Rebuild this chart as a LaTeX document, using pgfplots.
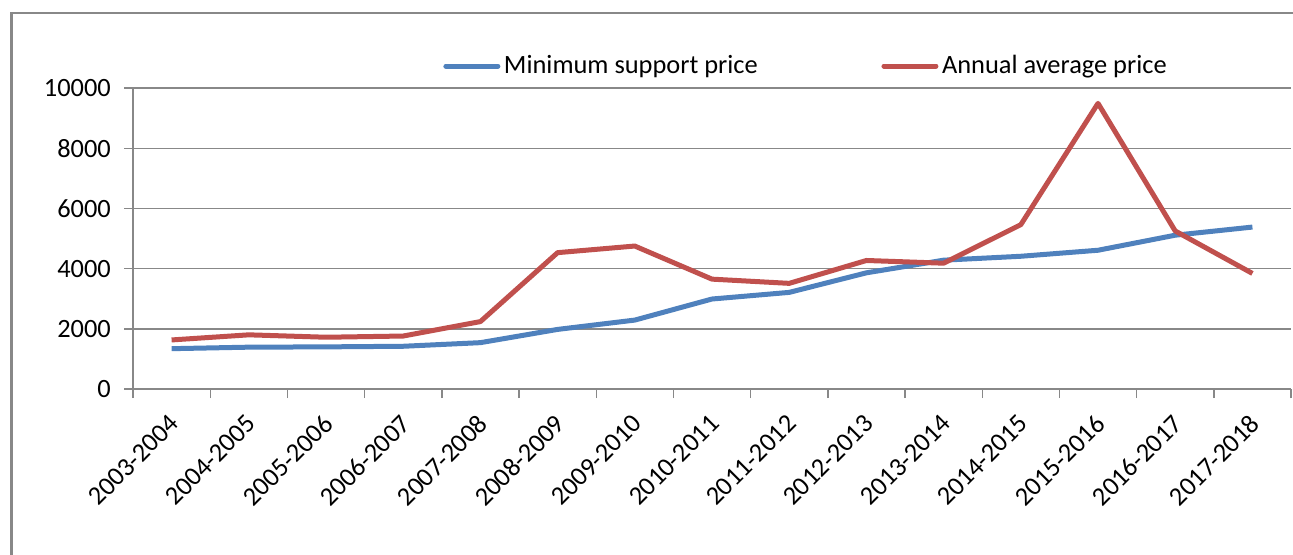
\documentclass[border=0pt]{standalone}
\usepackage{fontspec}
\setmainfont{Carlito}
\usepackage{pgfplots}
\pgfplotsset{compat=1.18}

\definecolor{mspblue}{HTML}{4F81BD}
\definecolor{avgred}{HTML}{C0504D}
\definecolor{gridgray}{HTML}{888888}

\begin{document}
\fontsize{13.2}{16}\selectfont
\begin{tikzpicture}
\useasboundingbox (0,0) rectangle (646.5pt,277pt);
\draw[gridgray, line width=1.3pt] (5.75pt,-5pt) -- (5.75pt,270.5pt) -- (660pt,270.5pt);
\begin{axis}[%
at={(66.5pt,82.5pt)},
anchor=south west,
width=579pt,
height=150.5pt,
scale only axis,
xmin=0.5,
xmax=15.5,
ymin=0,
ymax=10000,
xtick={0.5,1.5,...,15.5},
xticklabels={},
extra x ticks={1,2,...,15},
extra x tick labels={2003-2004,2004-2005,2005-2006,2006-2007,2007-2008,2008-2009,2009-2010,2010-2011,2011-2012,2012-2013,2013-2014,2014-2015,2015-2016,2016-2017,2017-2018},
extra x tick style={major tick length=0pt, xticklabel style={xshift=4.5pt, yshift=-12pt, rotate=45, anchor=east}},
ytick={0,2000,...,10000},
yticklabel style={xshift=-2pt},
scaled y ticks=false,
/pgf/number format/1000 sep={},
/pgf/number format/assume math mode=true,
tick align=outside,
major tick length=4.5pt,
every tick/.style={gridgray, line width=0.7pt},
axis x line*=bottom,
axis y line*=left,
axis line style={gridgray, line width=0.7pt},
ymajorgrids,
grid style={gridgray, line width=0.7pt},
tick label style={font=\fontsize{13.2}{16}\selectfont, text=black},
legend style={at={(0.2625,1.073)}, anchor=west, draw=none, fill=none,
  legend columns=2, font=\fontsize{13.2}{16}\selectfont,
  nodes={inner xsep=1.8pt},
  /tikz/every even column/.append style={column sep=60pt}},
legend image code/.code={\draw[#1, line width=2.5pt, line cap=round] (0pt,0pt) -- (26pt,0pt);},
]
\addplot[mspblue, line width=2.5pt, line join=round] coordinates {
(1,1340) (2,1390) (3,1400) (4,1420) (5,1540) (6,1980) (7,2290) (8,2990)
(9,3210) (10,3860) (11,4280) (12,4410) (13,4610) (14,5110) (15,5380)
};
\addlegendentry{Minimum support price}
\addplot[avgred, line width=2.5pt, line join=round] coordinates {
(1,1630) (2,1800) (3,1720) (4,1760) (5,2240) (6,4530) (7,4750) (8,3650)
(9,3510) (10,4270) (11,4180) (12,5460) (13,9490) (14,5250) (15,3840)
};
\addlegendentry{Annual average price}
\end{axis}
\end{tikzpicture}
\end{document}
